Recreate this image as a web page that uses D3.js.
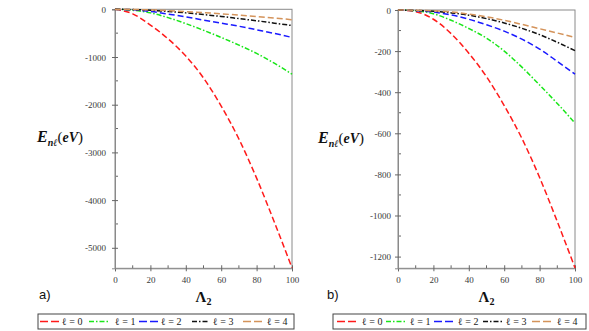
<!DOCTYPE html>
<html><head><meta charset="utf-8">
<script src="https://cdn.jsdelivr.net/npm/d3@7"></script>
<style>body{margin:0;background:#fff}svg{display:block}</style>
</head><body>
<script>
// ---- data ----
const lambda2 = [0,10,20,30,40,50,60,70,80,90,100];
const seriesLabels = ["ℓ = 0","ℓ = 1","ℓ = 2","ℓ = 3","ℓ = 4"];
// panel a)
const aL0 = [0,-95,-330,-620,-980,-1440,-2030,-2720,-3540,-4460,-5420];
const aL1 = [0,-20,-75,-175,-300,-440,-590,-750,-925,-1130,-1360];
const aL2 = [0,-10,-45,-100,-160,-225,-290,-355,-430,-505,-590];
const aL3 = [0,-5,-20,-45,-75,-110,-150,-195,-240,-290,-340];
const aL4 = [0,-3,-12,-28,-48,-70,-95,-122,-152,-184,-218];
// panel b)
const bL0 = [0,-8,-45,-115,-210,-325,-465,-625,-815,-1030,-1255];
const bL1 = [0,-4,-18,-50,-90,-137,-200,-278,-365,-455,-550];
const bL2 = [0,-3,-10,-24,-45,-72,-103,-142,-190,-250,-312];
const bL3 = [0,-2,-6,-14,-25,-42,-63,-89,-120,-157,-198];
const bL4 = [0,-1,-4,-9,-20,-33,-50,-70,-91,-112,-134];
const xTicks = [0,20,40,60,80,100];
const aYTicks = [0,-1000,-2000,-3000,-4000,-5000];
const bYTicks = [0,-200,-400,-600,-800,-1000,-1200];

const colors = ["#ff1a1a","#19e619","#1a1aff","#111111","#d4935a"];
const dashes = ["6,3","5,2,1.5,2","6,3","5,2,1.5,2","6,3"];

const svg = d3.select("body").append("svg").attr("width",589).attr("height",331);

function panel(opt){
  const x = d3.scaleLinear().domain([0,100]).range([opt.x0,opt.x1]);
  const y = d3.scaleLinear().domain([opt.ymin,0]).range([opt.y1,opt.y0]);
  const g = svg.append("g");
  g.append("rect").attr("x",opt.x0).attr("y",opt.y0).attr("width",opt.x1-opt.x0).attr("height",opt.y1-opt.y0)
    .attr("fill","none").attr("stroke","#8a8a8a").attr("stroke-width",1);
  const xMinor = d3.range(10,100,20);
  g.selectAll(".xm").data(xMinor).enter().append("line")
    .attr("x1",d=>x(d)).attr("x2",d=>x(d)).attr("y1",opt.y1).attr("y2",opt.y1-3)
    .attr("stroke","#666");
  const step = opt.yTicks[1]-opt.yTicks[0];
  const yMinor = opt.yTicks.map(d=>d+step/2).filter(d=>d>=opt.ymin);
  g.selectAll(".ym").data(yMinor).enter().append("line")
    .attr("x1",opt.x0).attr("x2",opt.x0+3).attr("y1",d=>y(d)).attr("y2",d=>y(d))
    .attr("stroke","#666");
  const xa = g.append("g").attr("transform",`translate(0,${opt.y1})`)
    .call(d3.axisBottom(x).tickValues(xTicks).tickSize(3).tickPadding(5).tickFormat(d3.format("d")));
  const ya = g.append("g").attr("transform",`translate(${opt.x0},0)`)
    .call(d3.axisLeft(y).tickValues(opt.yTicks).tickSize(3).tickPadding(opt.pad).tickFormat(d=>d<0?"-"+(-d):String(d)));
  [xa,ya].forEach(a=>{
    a.attr("font-family",null).attr("font-size",null);
    a.select(".domain").attr("stroke","#8a8a8a");
    a.selectAll(".tick line").attr("stroke","#666").attr("transform", a===xa?"translate(0,-3) scale(1,2)":"translate(3,0) scale(2,1)");
    a.selectAll("text").style("font-family","'Liberation Serif', serif").style("font-size","9px").attr("fill","#3a3a3a");
  });
  ya.selectAll("text").attr("dy","0.35em");
  const line = d3.line().x((d,i)=>x(lambda2[i])).y(d=>y(d)).curve(d3.curveMonotoneX);
  opt.series.forEach((s,i)=>{
    g.append("path").datum(s).attr("d",line).attr("fill","none")
      .attr("stroke",colors[i]).attr("stroke-width",1.5).attr("stroke-dasharray",dashes[i]);
  });
  const t = g.append("text").attr("x",opt.eLabelX).attr("y",opt.eLabelY).style("font-family","'Liberation Serif', serif").attr("fill","#111");
  t.append("tspan").text("E").attr("font-size",16).attr("font-weight","bold").attr("font-style","italic");
  t.append("tspan").text("nℓ").attr("font-size",10).attr("font-weight","bold").attr("font-style","italic").attr("dy",4);
  t.append("tspan").text("(").attr("font-size",15).attr("dy",-4);
  t.append("tspan").text("eV").attr("font-size",14).attr("font-weight","bold").attr("font-style","italic");
  t.append("tspan").text(")").attr("font-size",15);
  const xl = g.append("text").attr("x",(opt.x0+opt.x1)/2).attr("y",302).attr("text-anchor","middle")
    .style("font-family","'Liberation Serif', serif").attr("font-weight","bold").attr("fill","#111");
  xl.append("tspan").text("Λ").attr("font-size",15);
  xl.append("tspan").text("2").attr("font-size",10).attr("dy",3);
  g.append("text").attr("x",opt.tagX).attr("y",299).text(opt.tag)
    .style("font-family","'Liberation Sans', sans-serif").attr("font-size",13).attr("fill","#111");
  const lg = g.append("g");
  lg.append("rect").attr("x",opt.lx0).attr("y",314).attr("width",opt.lx1-opt.lx0).attr("height",15)
    .attr("fill","#fff").attr("stroke","#444").attr("stroke-width",1);
  seriesLabels.forEach((lab,i)=>{
    const p = opt.legPos[i];
    lg.append("line").attr("x1",p[0]).attr("x2",p[1]).attr("y1",321.5).attr("y2",321.5)
      .attr("stroke",colors[i]).attr("stroke-width",1.5).attr("stroke-dasharray",i%2?"5,2,1.5,2":"8,3");
    lg.append("text").attr("x",p[2]).attr("y",325).text(lab)
      .style("font-family","'Liberation Serif', serif").attr("font-size",10).attr("fill","#222");
  });
}

panel({x0:115,x1:292,y0:9.3,y1:268.3,ymin:-5430,yTicks:aYTicks,pad:6,
  series:[aL0,aL1,aL2,aL3,aL4],eLabelX:37,eLabelY:142,tag:"a)",tagX:39,
  lx0:38,lx1:294,legPos:[[40,59,62],[89,110,115],[139,158,161],[192,209,213],[243,263,267]]});
panel({x0:398,x1:575,y0:10,y1:268.3,ymin:-1257,yTicks:bYTicks,pad:4,
  series:[bL0,bL1,bL2,bL3,bL4],eLabelX:318,eLabelY:143,tag:"b)",tagX:327,
  lx0:333,lx1:586,legPos:[[337,358,362],[386,406,410],[434,455,458],[483,503,506],[532,553,557]]});
</script>
</body></html>
